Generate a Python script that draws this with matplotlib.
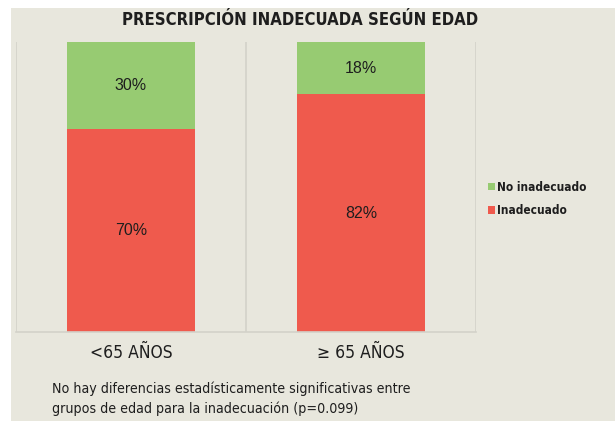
import matplotlib
matplotlib.use("Agg")
import matplotlib.pyplot as plt
from matplotlib.patches import Patch, Rectangle
from matplotlib import font_manager as fm

# Data
categories = ["<65 AÑOS", "≥ 65 AÑOS"]
inadecuado = [70, 82]
no_inadecuado = [30, 18]
series_names = ["No inadecuado", "Inadecuado"]

title = "PRESCRIPCIÓN INADECUADA SEGÚN EDAD"
footnote = ("No hay diferencias estadísticamente significativas entre\n"
            "grupos de edad para la inadecuación (p=0.099)")

BG = "#E8E7DD"
GREEN = "#97CB72"
RED = "#EF5A4D"
GRID = "#D3D2C9"
TXT = "#1E1E1E"


def narrow(size, weight="normal"):
    return fm.FontProperties(family=["DejaVu Sans"], stretch="condensed",
                             size=size, weight=weight)


fig = plt.figure(figsize=(6.15, 4.21), dpi=100)
fig.patch.set_facecolor(BG)

# white strips along the top and left edges
fig.add_artist(Rectangle((0, 0), 11 / 615, 1, transform=fig.transFigure,
                         facecolor="white", edgecolor="none", zorder=0))
fig.add_artist(Rectangle((0, 1 - 8 / 421), 1, 8 / 421, transform=fig.transFigure,
                         facecolor="white", edgecolor="none", zorder=0))

W, H = 615, 421
left, right, top, bottom = 16, 476, 42, 332
ax = fig.add_axes([left / W, 1 - bottom / H, (right - left) / W, (bottom - top) / H])
ax.set_facecolor(BG)

x = list(range(len(categories)))
bar_w = 0.56
ax.bar(x, inadecuado, width=bar_w, color=RED, zorder=2, label=series_names[1])
ax.bar(x, no_inadecuado, width=bar_w, bottom=inadecuado, color=GREEN, zorder=2,
       label=series_names[0])

for xi, r, g in zip(x, inadecuado, no_inadecuado):
    ax.text(xi, r / 2, f"{r}%", ha="center", va="center", fontsize=11.5,
            color=TXT, family=["Liberation Sans", "DejaVu Sans"], zorder=3)
    ax.text(xi, r + g / 2, f"{g}%", ha="center", va="center", fontsize=11.5,
            color=TXT, family=["Liberation Sans", "DejaVu Sans"], zorder=3)

ax.set_xlim(-0.5, len(categories) - 0.5)
ax.set_ylim(0, 100)

# category separators
for b in [i - 0.5 for i in range(len(categories) + 1)]:
    ax.axvline(b, color=GRID, lw=1.2, zorder=1)

for s in ["top", "left", "right"]:
    ax.spines[s].set_visible(False)
ax.spines["bottom"].set_color(GRID)
ax.spines["bottom"].set_linewidth(1.2)
ax.set_yticks([])
ax.set_xticks(x)
ax.set_xticklabels(categories, color=TXT, fontproperties=narrow(12.5))
ax.tick_params(axis="x", length=0, pad=9)

fig.text(300 / W, 1 - 20 / H, title, ha="center", va="center",
         color=TXT, fontproperties=narrow(12, "bold"))

handles = [Patch(facecolor=GREEN, edgecolor="none"), Patch(facecolor=RED, edgecolor="none")]
fig.legend(handles, series_names, loc="center left",
           bbox_to_anchor=(488 / W, 1 - 199 / H), frameon=False,
           borderpad=0, borderaxespad=0,
           handlelength=0.6, handleheight=0.6, handletextpad=0.2,
           labelspacing=0.9, prop=narrow(8.5, "bold"),
           labelcolor=TXT)

fig.text(52 / W, 1 - 399 / H, footnote, ha="left", va="center",
         color=TXT, fontproperties=narrow(10.2), linespacing=1.45)

fig.savefig("out.png", dpi=100, facecolor=fig.get_facecolor())
